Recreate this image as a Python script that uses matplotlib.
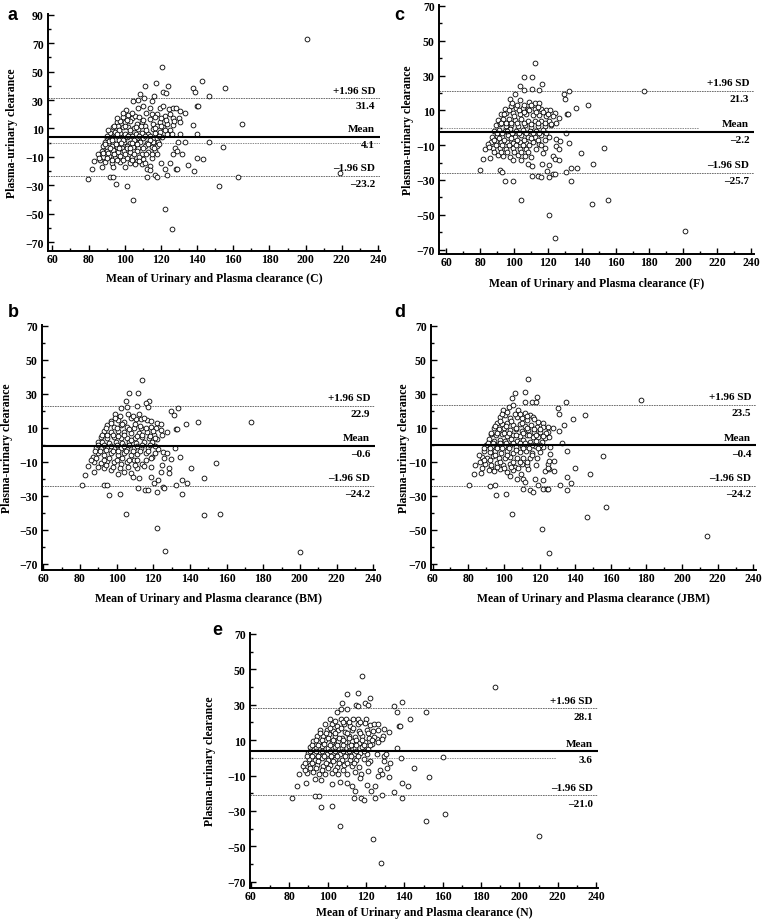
from __future__ import annotations

import matplotlib

matplotlib.use("Agg")

import matplotlib.pyplot as mp
import numpy as np
from matplotlib.ticker import MultipleLocator

# {{{ data

# panel a: C
A_POINTS = [
    (120.6, 52.9), (200.8, 72.9), (218.8, -21.0), (164.7, 13.0),
    (111.2, 40.0), (117.1, 41.9), (123.7, 40.0), (137.5, 38.1), (142.8, 43.1), (155.7, 38.8),
    (108.4, 34.1), (110.6, 31.1), (121.0, 35.8), (122.6, 35.1), (116.4, 33.0), (138.6, 35.3), (146.7, 32.7),
    (104.8, 29.4), (107.5, 29.9), (115.1, 29.4), (139.7, 25.9), (140.5, 25.9),
    (100.7, 23.1), (107.5, 24.7), (110.3, 25.5), (113.9, 24.7), (119.5, 24.7), (121.0, 25.9), (124.4, 23.6),
    (126.5, 24.3), (128.3, 24.3), (130.5, 22.4), (133.3, 20.8),
    (99.2, 18.4), (102.0, 19.3), (103.8, 17.7), (105.9, 18.9), (114.9, 20.1), (118.0, 20.5), (122.2, 18.9),
    (125.0, 20.1), (126.8, 17.7), (129.8, 17.7), (130.5, 14.2), (137.5, 12.3),
    (95.6, 14.2), (97.4, 15.4), (100.2, 14.2), (102.9, 15.4), (106.6, 13.0), (109.4, 14.2), (113.9, 16.5),
    (115.8, 13.0), (119.5, 14.2), (123.2, 13.0), (126.8, 12.5),
    (93.7, 10.7), (96.5, 11.8), (99.2, 10.7), (102.0, 11.1), (105.1, 10.2), (107.5, 9.5), (111.2, 11.8),
    (115.8, 9.5), (118.0, 11.8), (121.3, 10.7), (125.0, 8.8),
    (91.9, 7.1), (94.6, 7.8), (97.4, 7.1), (100.2, 6.4), (102.9, 7.8), (106.2, 6.4), (109.4, 7.1),
    (113.0, 6.4), (116.7, 7.1), (119.5, 7.8), (123.2, 6.0), (125.9, 6.0), (130.5, 6.0), (139.7, 6.0),
    (90.4, 3.6), (92.8, 4.1), (95.6, 4.8), (98.3, 3.6), (101.1, 4.1), (103.8, 4.8), (106.6, 3.6),
    (110.3, 3.6), (113.9, 4.8), (117.6, 3.6), (120.4, 4.1),
    (89.1, 0.8), (91.5, 1.3), (93.7, 0.1), (97.0, 1.7), (99.6, 0.8), (102.9, 0.1), (105.7, 1.3),
    (108.4, 0.8), (112.1, 0.1), (115.8, 0.8), (118.6, 0.8), (129.2, 0.8), (133.3, 0.8), (146.7, 0.8),
    (154.6, -3.0),
    (88.2, -2.2), (90.4, -3.4), (92.8, -2.2), (95.6, -2.9), (98.3, -3.9), (101.1, -2.2), (104.4, -2.9),
    (107.5, -3.9), (111.2, -2.2), (114.9, -3.4), (117.6, -2.2),
    (87.3, -5.8), (90.0, -6.2), (93.4, -5.3), (96.5, -6.9), (99.6, -5.8), (102.9, -6.9), (106.6, -5.8),
    (109.4, -8.1), (113.0, -6.9), (116.7, -6.2), (127.8, -3.9), (129.0, -5.8), (126.5, -8.1),
    (131.6, -8.1), (139.7, -10.5), (143.0, -11.4),
    (85.4, -8.1), (88.2, -10.0), (91.5, -9.3), (94.6, -10.5), (97.4, -9.3), (101.1, -10.9),
    (103.8, -10.0), (106.6, -12.8), (110.3, -11.6), (114.9, -10.5), (118.0, -8.1),
    (83.0, -12.8), (86.4, -12.3), (89.1, -13.3), (92.8, -14.0), (97.4, -13.3), (102.9, -14.0),
    (105.7, -15.2), (109.4, -15.2), (113.9, -16.3), (119.9, -14.0), (125.0, -14.0), (128.3, -18.7),
    (129.0, -18.7), (134.8, -15.9), (138.4, -19.8),
    (81.9, -18.7), (87.3, -17.0), (93.4, -17.0), (100.2, -17.0), (112.1, -18.7), (113.9, -19.4),
    (122.2, -18.7),
    (79.9, -25.9), (91.9, -24.5), (93.4, -24.5), (112.5, -23.8), (116.7, -22.7), (118.0, -23.8),
    (123.5, -22.9), (162.7, -23.8),
    (95.2, -28.8), (101.1, -30.6), (151.9, -30.6),
    (104.8, -40.5), (122.4, -46.6), (126.3, -60.4),
]
# overlapping circles in the dark core of the cloud
A_CORE = [
    (91, 9), (94, 12), (97, 9), (100, 12), (103, 9), (106, 11), (109, 12), (112, 9), (117, 10), (120, 12),
    (90, 5), (93, 2), (96, 6), (99, 2), (102, 5), (105, 2), (108, 5), (111, 5), (114, 2), (119, 5),
    (122, 9), (89, -1), (92, -4), (95, -1), (98, 0), (101, -4), (104, 0), (107, -1), (110, -4),
    (113, -1), (116, -4), (119, -1), (88, -7), (91, -7), (94, -8), (97, -4), (100, -8), (103, -4),
    (105, -8), (108, -10), (112, -8), (115, -8), (86, -11), (90, -11), (93, -12), (96, -12),
    (99, -12), (104, -12), (108, -13), (111, -14), (96, 17), (99, 21), (101, 16), (104, 21),
    (108, 18), (110, 16), (112, 21), (117, 18), (120, 17), (123, 16), (127, 15),
]
A_STATS = (4.1, 31.4, -23.2)

# panel b: BM
B_POINTS = [
    (113.7, 38.0), (106.8, 30.2), (111.7, 30.2),
    (105.0, 25.9), (117.7, 25.9), (102.3, 21.4), (105.9, 22.3), (111.4, 22.9), (116.1, 24.3),
    (117.2, 22.3), (99.0, 18.0), (129.9, 20.0), (133.5, 21.4), (131.3, 17.4),
    (137.8, 12.3), (144.2, 13.1), (132.2, 9.2), (133.1, 9.2), (173.4, 13.1),
    (96.8, 13.9), (100.5, 14.5), (104.1, 13.5), (107.7, 15.9), (110.4, 15.1), (113.2, 15.1),
    (116.8, 14.5), (122.2, 12.5), (124.1, 11.9),
    (95.0, 11.5), (98.7, 10.6), (102.3, 11.5), (105.9, 10.6), (109.5, 10.0), (113.2, 9.6),
    (118.6, 10.6), (121.3, 9.6), (124.1, 8.6), (127.3, 7.2),
    (93.2, 8.0), (96.8, 7.6), (100.5, 8.0), (104.1, 7.2), (107.7, 6.6), (112.3, 6.6), (116.8, 7.6),
    (120.4, 6.0), (125.0, 5.7),
    (91.4, 4.7), (95.0, 4.1), (98.7, 4.7), (102.3, 3.7), (105.9, 4.1), (109.9, 3.7), (114.1, 4.7),
    (117.7, 3.7), (122.2, 3.3),
    (89.6, 1.7), (92.3, 1.7), (95.9, 0.8), (99.6, 1.7), (103.2, 0.8), (106.8, 1.7), (110.4, 0.8),
    (115.0, 1.3), (119.5, 1.7),
    (88.7, -1.8), (91.4, -2.2), (95.0, -1.2), (98.7, -2.2), (102.3, -1.8), (105.9, -2.6),
    (109.5, -1.8), (113.2, -2.2), (117.2, -1.8), (122.6, -2.6), (132.0, -2.2),
    (86.9, -7.1), (89.6, -5.1), (93.2, -6.1), (96.8, -5.1), (100.5, -6.1), (104.1, -5.1),
    (107.7, -6.1), (111.4, -5.7), (115.9, -5.1), (119.5, -7.1), (125.5, -4.5), (127.7, -5.1),
    (84.5, -12.4), (87.8, -10.0), (91.4, -11.0), (95.0, -9.6), (98.7, -10.4), (102.3, -11.6),
    (105.9, -10.0), (109.5, -9.1), (114.1, -11.6), (118.6, -7.7), (125.9, -8.1), (129.5, -8.5),
    (134.4, -7.1),
    (82.9, -17.9), (87.8, -15.9), (93.2, -14.0), (96.8, -14.9), (100.8, -17.5), (104.1, -15.9),
    (107.7, -16.9), (111.4, -13.6), (115.0, -12.4), (118.6, -13.0), (125.0, -12.0), (128.6, -14.0),
    (124.1, -15.9), (128.6, -16.9), (140.7, -14.0), (154.2, -10.8),
    (109.2, -18.9), (112.3, -19.8), (118.6, -18.9), (122.6, -20.8), (120.4, -22.8), (125.5, -24.7),
    (132.2, -23.8), (135.8, -20.8), (138.6, -22.8), (147.6, -19.4),
    (80.9, -23.9), (92.9, -23.9), (95.0, -23.9), (95.9, -29.6), (101.6, -28.9), (111.7, -25.7),
    (115.3, -26.9), (117.2, -26.9), (122.2, -27.7), (125.9, -25.7), (135.5, -28.9),
    (105.2, -40.6), (147.6, -41.2), (156.3, -40.6), (122.2, -48.9), (126.2, -62.6), (200.3, -63.0),
]
B_CORE = [
    (94, 10), (97, 13), (100, 10), (103, 12), (107, 9), (110, 12), (113, 11), (116, 10), (120, 8),
    (92, 6), (95, 6), (98, 6), (101, 5), (104, 6), (108, 3), (111, 5), (114, 6), (118, 5), (121, 4),
    (90, 0), (93, 0), (97, -1), (100, 0), (104, -1), (107, 0), (111, -1), (114, 0), (118, 0),
    (121, -1), (88, -4), (91, -4), (94, -3), (98, -4), (101, -4), (105, -4), (109, -4), (113, -4),
    (117, -4), (121, -5), (86, -9), (89, -8), (93, -9), (96, -8), (100, -9), (103, -8), (107, -9),
    (111, -9), (116, -9), (90, -13), (94, -12), (98, -13), (102, -14), (106, -13), (110, -12),
    (99, 16), (102, 17), (106, 18), (109, 17), (112, 18), (115, 16), (119, 14),
]
B_STATS = (-0.6, 22.9, -24.2)

# panel c: F
C_POINTS = [
    (112.5, 37.4), (105.8, 29.1), (110.5, 29.1), (116.6, 25.3),
    (103.2, 24.0), (105.8, 21.5), (110.5, 22.1), (115.0, 21.5), (100.7, 19.6), (129.2, 19.6),
    (132.3, 21.3), (176.5, 21.3),
    (130.3, 16.3), (97.3, 16.3), (103.2, 15.7), (108.7, 14.8), (112.1, 14.4), (115.0, 14.4),
    (143.7, 13.1), (136.6, 11.2), (131.1, 8.1), (132.1, 8.1),
    (94.4, 11.0), (98.3, 12.5), (101.3, 11.5), (105.2, 11.5), (108.1, 11.0), (112.1, 11.0),
    (116.0, 10.6), (118.9, 10.2), (121.3, 10.2), (123.9, 8.7), (126.4, 5.8),
    (92.4, 7.7), (95.4, 8.7), (99.3, 8.3), (103.2, 7.7), (107.1, 7.7), (111.1, 7.1), (115.0, 7.1),
    (118.9, 6.8), (122.9, 6.8),
    (90.4, 4.5), (93.4, 5.2), (96.9, 4.8), (100.3, 4.5), (104.2, 4.8), (108.1, 3.9), (112.1, 3.9),
    (116.0, 3.9), (120.9, 3.9), (124.8, 2.9),
    (89.1, 1.4), (91.8, 2.0), (95.0, 1.0), (98.3, 1.4), (102.2, 1.0), (106.2, 1.4), (110.1, 0.6),
    (114.0, 1.0), (118.0, 1.0), (121.9, 1.4),
    (87.9, -1.8), (91.0, -1.3), (94.4, -1.8), (97.3, -0.9), (101.3, -1.8), (105.2, -1.3),
    (109.1, -1.8), (113.0, -1.8), (117.0, -1.3), (130.7, -2.8),
    (87.1, -5.1), (89.9, -4.7), (93.0, -5.1), (96.3, -4.3), (100.3, -5.1), (104.2, -4.3),
    (108.1, -5.1), (112.1, -5.1), (116.0, -4.3), (120.9, -5.1), (124.8, -6.2), (127.2, -7.6),
    (86.5, -8.2), (89.5, -7.6), (92.4, -8.2), (95.8, -8.2), (99.3, -8.5), (103.2, -8.2),
    (107.1, -8.5), (111.1, -8.2), (115.0, -9.5), (132.7, -8.9),
    (84.5, -9.1), (82.6, -12.4), (87.5, -11.4), (91.4, -11.4), (95.4, -12.0), (99.3, -11.4),
    (103.2, -12.4), (107.1, -12.0), (113.0, -12.4), (118.0, -11.4), (124.8, -10.4), (126.8, -12.4),
    (153.3, -11.8),
    (81.6, -18.1), (85.9, -17.5), (90.4, -15.8), (93.4, -16.2), (97.3, -16.6), (102.2, -15.8),
    (106.2, -16.2), (110.1, -16.6), (117.0, -14.3), (122.9, -16.2), (124.4, -18.1), (126.8, -18.5),
    (139.6, -14.7),
    (99.3, -18.7), (104.2, -18.7), (108.1, -21.0), (110.7, -21.9), (116.6, -21.0), (120.9, -21.5),
    (146.5, -20.8),
    (79.6, -24.4), (91.8, -24.4), (93.0, -25.4), (119.3, -24.6), (122.9, -26.7), (124.4, -26.7),
    (130.7, -25.4), (133.7, -22.9), (137.2, -23.3),
    (110.5, -27.7), (114.0, -27.7), (116.0, -28.4), (120.9, -28.2),
    (94.6, -30.5), (99.5, -30.5), (133.7, -30.5),
    (104.2, -41.4), (155.3, -41.4), (146.3, -43.7), (120.5, -50.2), (124.4, -63.4), (201.1, -59.2),
]
C_CORE = [
    (94, 8), (97, 10), (100, 7), (103, 10), (106, 9), (109, 10), (113, 9), (117, 9), (120, 8),
    (92, 3), (95, 3), (98, 3), (102, 3), (106, 3), (110, 2), (114, 3), (118, 3), (122, 2),
    (90, -3), (93, -3), (96, -2), (99, -3), (103, -3), (107, -3), (111, -3), (115, -3), (119, -3),
    (88, -7), (91, -6), (94, -7), (98, -6), (102, -7), (106, -7), (110, -6), (114, -7), (118, -7),
    (85, -11), (89, -10), (93, -10), (97, -10), (101, -10), (105, -10), (109, -10), (116, -10),
    (88, -14), (92, -14), (96, -14), (100, -14), (104, -14), (108, -14),
    (99, 14), (102, 13), (106, 13), (110, 13), (114, 12),
]
C_STATS = (-2.2, 21.3, -25.7)

# panel d: JBM
D_POINTS = [
    (113.4, 38.5), (106.3, 30.3), (111.9, 31.3), (104.8, 27.7), (111.9, 25.3), (115.7, 24.9),
    (118.1, 25.3), (118.5, 28.3), (177.0, 26.5),
    (102.6, 22.4), (105.4, 23.4), (99.4, 20.4), (108.2, 20.4), (111.9, 18.8), (114.7, 17.5),
    (130.1, 21.4), (131.2, 18.3), (134.9, 25.1), (145.8, 17.5), (138.7, 15.1), (133.8, 11.6),
    (131.2, 8.2), (127.8, 9.6),
    (97.9, 16.5), (100.7, 17.5), (103.5, 15.5), (107.3, 16.5), (110.1, 15.5), (112.9, 14.5),
    (116.6, 16.5), (119.4, 13.5), (122.2, 12.9), (124.5, 10.6),
    (96.1, 12.9), (98.9, 12.1), (101.7, 12.5), (105.4, 11.6), (108.8, 12.1), (111.9, 11.0),
    (115.1, 11.6), (118.5, 10.6), (121.9, 10.2), (125.0, 7.6),
    (94.2, 9.6), (97.0, 9.0), (100.2, 9.6), (103.5, 8.6), (106.9, 9.0), (110.1, 8.2), (113.8, 8.6),
    (117.0, 7.6), (120.4, 7.6), (123.7, 6.6),
    (92.7, 6.2), (95.7, 5.6), (98.9, 6.2), (102.0, 5.1), (105.4, 5.6), (109.1, 5.1), (112.9, 5.6),
    (116.2, 4.7), (119.4, 4.3), (123.2, 3.7), (125.6, 4.3),
    (91.4, 3.1), (94.2, 2.3), (97.6, 2.7), (100.7, 2.3), (103.9, 3.1), (107.6, 2.3), (111.0, 2.7),
    (114.7, 1.7), (118.1, 2.3), (121.3, 1.7),
    (90.1, -0.3), (93.3, -0.9), (96.4, -0.3), (99.8, -0.9), (103.5, -0.3), (106.9, -1.3),
    (110.1, -0.9), (113.8, -0.3), (117.6, -0.9), (121.9, -1.6), (126.0, -1.3), (132.9, 1.1),
    (89.0, -3.6), (92.0, -4.2), (95.1, -3.6), (98.3, -4.8), (101.7, -3.6), (105.0, -4.8),
    (108.8, -4.2), (112.5, -3.6), (115.7, -4.8), (120.4, -4.2), (135.3, -3.6),
    (87.6, -7.2), (90.5, -7.6), (93.8, -6.8), (97.0, -7.6), (100.4, -8.1), (103.5, -7.2),
    (107.3, -8.1), (111.0, -7.6), (114.7, -8.1), (118.5, -7.6), (126.0, -5.6), (128.2, -9.5),
    (155.9, -6.8),
    (83.9, -12.1), (86.7, -10.1), (89.5, -11.1), (92.7, -13.1), (96.1, -10.7), (99.4, -12.1),
    (103.2, -11.1), (106.3, -13.1), (110.1, -11.1), (112.9, -12.1), (118.1, -12.1), (124.5, -11.5),
    (125.6, -9.5),
    (83.0, -17.4), (87.1, -16.6), (91.4, -15.0), (94.2, -15.4), (97.9, -14.6), (101.7, -16.0),
    (105.4, -15.0), (109.5, -17.0), (113.8, -14.6), (123.2, -15.4), (125.6, -14.6), (128.2, -15.4),
    (125.0, -13.5), (140.0, -13.7), (148.4, -17.4),
    (103.5, -18.6), (107.3, -20.0), (111.0, -20.0), (117.6, -20.0), (121.9, -21.0), (135.7, -19.0),
    (137.5, -22.5),
    (80.7, -23.9), (92.3, -24.5), (94.8, -23.7), (111.9, -21.9), (111.0, -25.9), (114.7, -26.9),
    (116.6, -27.8), (119.4, -23.9), (122.2, -25.9), (124.1, -25.9), (125.0, -25.9), (131.6, -23.9),
    (135.7, -26.9),
    (95.3, -29.6), (101.1, -28.8),
    (104.8, -40.8), (146.5, -42.8), (157.4, -36.7), (121.5, -49.7), (125.2, -63.7), (214.0, -54.0),
]
D_CORE = [
    (95, 11), (98, 14), (101, 11), (104, 14), (107, 10), (110, 13), (113, 10), (117, 9), (120, 9),
    (93, 7), (96, 7), (100, 7), (103, 7), (107, 6), (111, 7), (114, 6), (118, 6), (122, 5),
    (91, 1), (94, 1), (98, 1), (101, 1), (105, 1), (109, 1), (112, 1), (116, 0), (120, 0),
    (89, -2), (92, -2), (96, -2), (99, -2), (103, -2), (107, -3), (111, -2), (114, -2), (119, -2),
    (86, -6), (89, -9), (92, -9), (95, -6), (98, -10), (102, -6), (105, -10), (109, -10),
    (113, -10), (116, -6), (88, -14), (93, -12), (96, -13), (100, -14), (104, -13), (108, -14),
    (99, 18), (102, 19), (106, 18), (109, 18), (113, 17), (117, 15),
]
D_STATS = (-0.4, 23.5, -24.2)

# panel e: N
E_POINTS = [
    (118.0, 46.0), (187.2, 39.8),
    (110.0, 36.0), (115.6, 36.8), (122.2, 34.0), (107.4, 31.1), (114.9, 29.6), (115.6, 29.2),
    (119.7, 31.1), (121.0, 29.6), (134.7, 29.2), (138.9, 31.7), (151.1, 26.0), (136.1, 25.8),
    (104.8, 25.8), (107.0, 27.4), (110.0, 27.7),
    (101.3, 22.1), (106.9, 22.1), (109.6, 22.1), (113.0, 22.1), (115.6, 22.1), (119.9, 22.1),
    (143.1, 22.1), (137.0, 17.9), (137.9, 17.9),
    (98.7, 18.9), (102.2, 18.9), (104.8, 17.9), (108.3, 18.9), (111.7, 17.9), (115.6, 18.9),
    (119.6, 19.4), (122.2, 18.3), (124.3, 18.9), (126.5, 18.9), (129.2, 16.4), (131.8, 14.5),
    (96.1, 15.7), (99.5, 16.0), (102.7, 15.1), (105.6, 16.0), (109.1, 14.5), (112.6, 15.7),
    (116.1, 15.1), (120.4, 16.0), (123.9, 15.1), (126.0, 16.0), (128.8, 12.3),
    (94.3, 12.6), (97.5, 12.3), (100.9, 13.2), (103.9, 12.3), (107.4, 11.3), (110.9, 12.6),
    (114.3, 11.9), (117.8, 12.3), (121.8, 11.3), (125.7, 10.4), (128.3, 10.8),
    (92.6, 9.4), (95.7, 8.9), (98.7, 10.0), (102.2, 8.9), (105.6, 9.4), (109.1, 8.9), (112.6, 9.4),
    (116.1, 8.5), (119.6, 8.9), (123.1, 8.1), (126.5, 8.9),
    (90.8, 6.2), (94.0, 5.7), (96.9, 6.6), (100.4, 5.7), (103.9, 6.2), (107.4, 5.7), (110.9, 6.6),
    (114.3, 5.7), (117.8, 6.2), (121.3, 5.1), (136.1, 5.7),
    (90.0, 2.8), (92.9, 2.4), (96.1, 3.2), (99.5, 2.4), (103.0, 2.8), (106.5, 2.4), (110.0, 3.2),
    (113.5, 2.4), (117.0, 2.8), (120.4, 1.9), (125.7, 2.4), (129.2, 0.9), (130.6, 1.9),
    (90.5, -0.6), (93.4, -1.0), (96.9, 0.0), (100.4, -1.0), (103.9, -0.6), (107.4, -1.0),
    (111.4, -1.0), (114.9, -1.3), (118.7, -0.6), (122.2, -1.9), (129.2, -1.9), (138.2, 0.0),
    (132.6, -2.8), (160.3, 0.4),
    (87.4, -4.7), (90.8, -4.3), (94.3, -3.8), (97.8, -4.7), (101.3, -4.3), (104.8, -5.1),
    (108.3, -4.3), (112.6, -4.7), (116.6, -5.1), (121.3, -2.8), (130.9, -5.7), (145.2, -6.0),
    (85.3, -9.4), (89.1, -8.5), (92.2, -8.1), (95.7, -8.9), (98.7, -9.4), (102.2, -8.5),
    (105.6, -8.9), (110.0, -9.4), (114.3, -8.1), (117.3, -8.9), (121.3, -7.6), (127.4, -6.6),
    (128.3, -9.4), (126.5, -10.4), (131.8, -10.8), (152.7, -11.0),
    (83.9, -16.0), (88.7, -14.2), (93.4, -11.9), (96.4, -12.3), (102.2, -14.5), (106.5, -13.8),
    (110.0, -14.2), (112.6, -15.7), (117.0, -11.3), (120.4, -15.1), (124.8, -16.0), (138.7, -14.2),
    (142.0, -16.0),
    (81.4, -22.6), (93.4, -21.7), (95.7, -21.7), (96.6, -27.7), (102.3, -27.0), (113.5, -22.6),
    (114.3, -18.9), (117.3, -22.6), (119.1, -24.0), (122.5, -18.9), (124.6, -22.6), (128.3, -20.8),
    (134.7, -19.3), (138.6, -22.6),
    (106.3, -38.7), (151.1, -35.9), (161.4, -31.7), (123.8, -45.9), (127.9, -59.6), (210.3, -44.0),
]
E_CORE = [
    (96, 14), (99, 14), (101, 17), (104, 14), (107, 17), (110, 14), (113, 17), (117, 14), (121, 14),
    (124, 12), (94, 10), (97, 10), (100, 11), (103, 10), (106, 11), (108, 10), (111, 11), (115, 10),
    (118, 10), (123, 10), (92, 7), (95, 7), (98, 8), (101, 7), (105, 7), (108, 7), (112, 7),
    (115, 7), (119, 7), (122, 7), (91, 4), (94, 4), (97, 4), (101, 4), (104, 4), (108, 4), (111, 4),
    (115, 4), (119, 4), (89, 1), (92, 1), (95, 1), (98, 1), (102, 1), (105, 1), (109, 1), (112, 1),
    (116, 1), (88, -3), (92, -3), (95, -2), (99, -3), (103, -2), (106, -3), (110, -3), (114, -3),
    (88, -7), (91, -6), (94, -6), (97, -7), (100, -6), (104, -7), (108, -7),
    (104, 21), (108, 20), (111, 20), (117, 20),
]
E_STATS = (3.6, 28.1, -21.0)

# }}}

# {{{ layout (pixel boxes: left, right, top, bottom)

FIG_W, FIG_H = 762, 920

PANELS = [
    # letter, points, stats, xlabel suffix, box, xlim, ylim, y top tick, zero-line end,
    # letter position, ylabel offset, xlabel offset (pixels)
    ("a", A_POINTS + A_CORE, A_STATS, "C", (48, 380, 15, 252), (57.6, 241.1), (-76.2, 90.5), 90,
     241, (8, 15), 36, 21),
    ("c", C_POINTS + C_CORE, C_STATS, "F", (439, 754, 6, 255), (55.6, 241.8), (-72.5, 70.5), 70,
     209, (394, 16), 31, 23),
    ("b", B_POINTS + B_CORE, B_STATS, "BM", (42, 375, 326, 571), (59.3, 241.0), (-73.8, 70.5), 70,
     207, (8, 313), 35, 22),
    ("d", D_POINTS + D_CORE, D_STATS, "JBM", (431, 756, 326, 571), (59.1, 241.5), (-73.8, 70.5), 70,
     212, (394, 313), 27, 22),
    ("e", E_POINTS + E_CORE, E_STATS, "N", (250, 598, 634, 889), (59.5, 241.0), (-73.5, 70.5), 70,
     219, (212, 631), 40, 18),
]

SERIF = ["Liberation Serif", "DejaVu Serif"]
SANS = ["Liberation Sans", "DejaVu Sans"]

# }}}


def fmt(value: float) -> str:
    return f"{value:.1f}".replace("-", "\u2013")


def draw_panel(fig, letter, points, stats, suffix, box, xlim, ylim, ytop, zero_end,
               letter_pos, ylab_off, xlab_off) -> None:
    left, right, top, bottom = box
    width, height = right - left, bottom - top
    ax = fig.add_axes([left / FIG_W, 1.0 - bottom / FIG_H, width / FIG_W, height / FIG_H])

    xy = np.array(points, dtype=float)
    ax.scatter(xy[:, 0], xy[:, 1], s=12, facecolors="white", edgecolors="black",
               linewidths=0.6, zorder=3)

    mean, upper, lower = stats
    ax.axhline(mean, color="black", lw=1.5, zorder=4)
    for level in (upper, lower):
        ax.axhline(level, color="0.35", lw=0.6, ls=(0, (2, 1)), zorder=2)
    ax.plot([xlim[0], zero_end], [0, 0], color="0.55", lw=0.7, ls=(0, (1.5, 1)), zorder=2)

    # labels at the right end of the reference lines
    tx = dict(xycoords=("axes fraction", "data"), textcoords="offset points",
              ha="right", fontsize=8, family=SERIF, fontweight="bold")
    for level, name in ((upper, "+1.96 SD"), (mean, "Mean"), (lower, "\u20131.96 SD")):
        ax.annotate(name, (0.985, level), xytext=(0, 2.5), va="bottom", **tx)
        ax.annotate(fmt(level), (0.985, level), xytext=(0, -2.5), va="top", **tx)

    ax.set_xlim(*xlim)
    ax.set_ylim(*ylim)
    ax.set_xticks(np.arange(60, 241, 20))
    ax.set_yticks(np.arange(-70, ytop + 1, 20))
    ax.xaxis.set_minor_locator(MultipleLocator(10))
    ax.yaxis.set_minor_locator(MultipleLocator(10))
    ax.tick_params(which="both", direction="in", width=1.0)
    ax.tick_params(which="major", length=4)
    ax.tick_params(which="minor", length=2)
    ax.tick_params(axis="x", pad=1.5)
    ax.tick_params(axis="y", pad=3)
    for lab in ax.get_xticklabels() + ax.get_yticklabels():
        lab.set_family(SERIF)
        lab.set_fontweight("bold")
        lab.set_fontsize(8.5)

    for side in ("top", "right"):
        ax.spines[side].set_visible(False)
    for side in ("left", "bottom"):
        ax.spines[side].set_linewidth(1.4)
    ax.spines["left"].set_bounds(ylim[0], ytop + 0.5)

    lab = dict(family=SERIF, fontweight="bold", fontsize=8.5)
    ax.set_xlabel(f"Mean of Urinary and Plasma clearance ({suffix})", va="top", **lab)
    ax.set_ylabel("Plasma-urinary clearance", va="center", **lab)
    ax.xaxis.set_label_coords(0.5, -xlab_off / height)
    ax.yaxis.set_label_coords(-ylab_off / width, 0.5)

    lx, ly = letter_pos
    fig.text(lx / FIG_W, 1.0 - ly / FIG_H, letter,
             family=SANS, fontweight="bold", fontsize=13, ha="left", va="center")


def main() -> int:
    fig = mp.figure(figsize=(FIG_W / 100, FIG_H / 100), dpi=100)
    for panel in PANELS:
        draw_panel(fig, *panel)
    fig.savefig("out.png", dpi=100, facecolor="white")
    mp.close(fig)
    return 0


if __name__ == "__main__":
    raise SystemExit(main())
